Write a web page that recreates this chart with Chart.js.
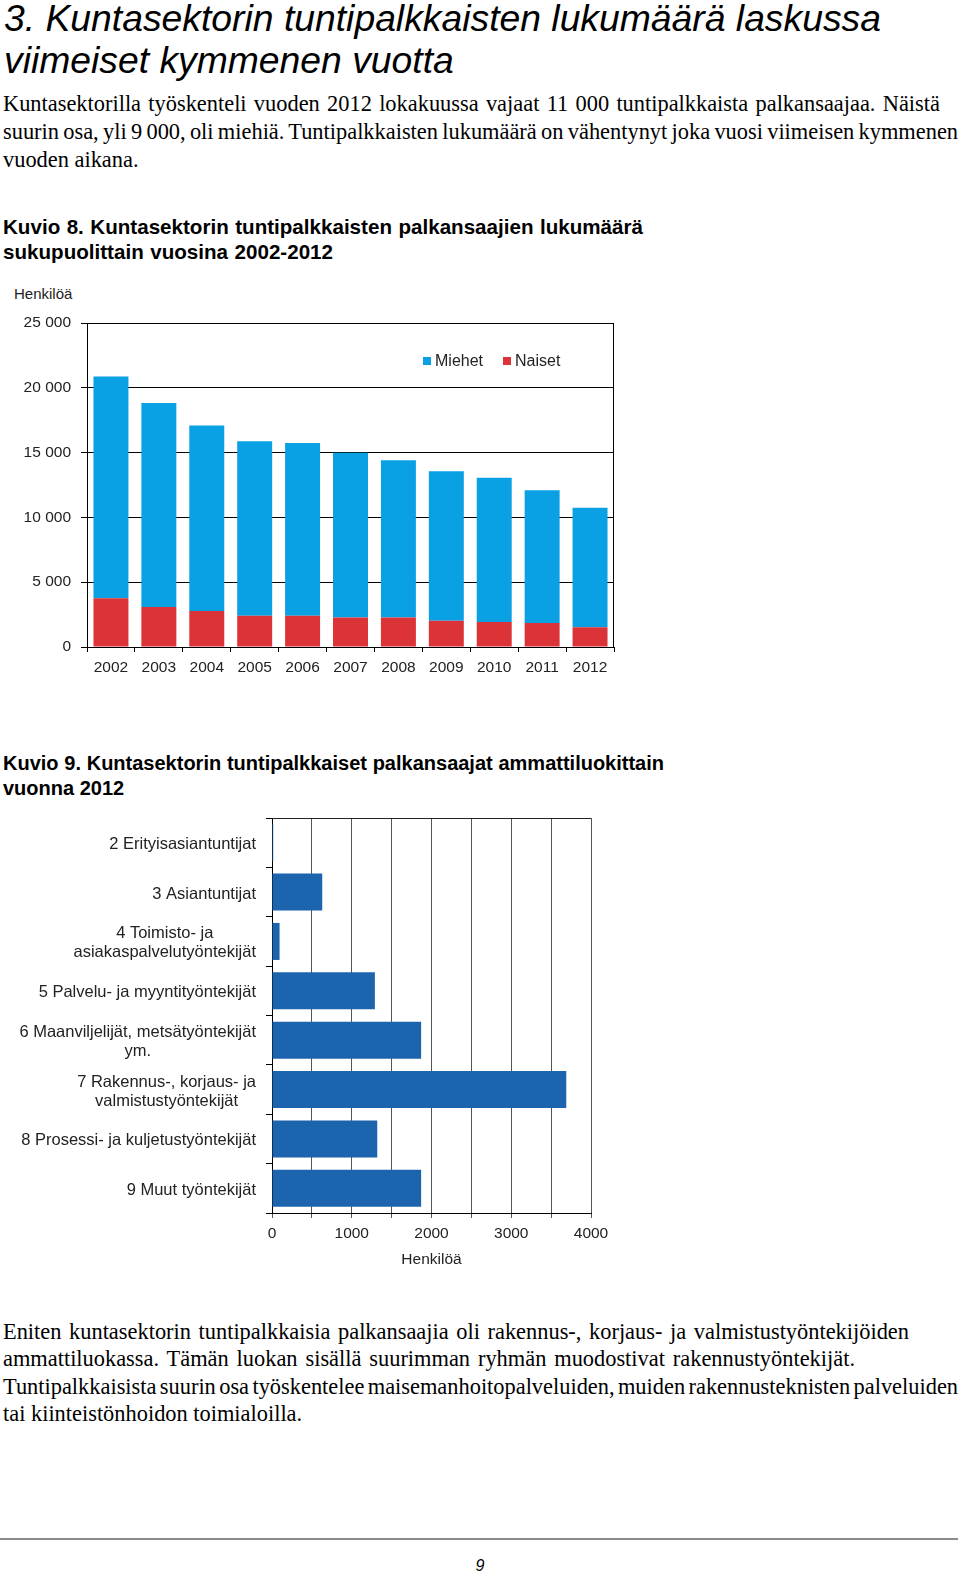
<!DOCTYPE html>
<html>
<head>
<meta charset="utf-8">
<script src="https://cdn.jsdelivr.net/npm/chart.js@4.4.0/dist/chart.umd.min.js"></script>
<style>
body { margin: 0; background: #fff; }
#page { position: relative; width: 960px; height: 1572px; overflow: hidden; }
.t { position: absolute; left: 3px; white-space: nowrap; color: #000; }
.h1 { font: italic 37.3px "Liberation Sans", Arial, sans-serif; line-height: 42px; top: -3px; left: 4px; }
.p { font: 22.4px "Liberation Serif", "Times New Roman", serif; line-height: 28px; }
.kuvio { font: bold 20.6px "Liberation Sans", Arial, sans-serif; line-height: 24.5px; }
.small { font: 15px "Liberation Sans", Arial, sans-serif; color: #222; }
.box { position: absolute; left: 0; }
#legend1 { position: absolute; left: 423px; top: 352px; font: 16px "Liberation Sans", Arial, sans-serif; color: #222; white-space: nowrap; }
#legend1 span.sw { display: inline-block; width: 8px; height: 8px; margin-right: 4px; vertical-align: 1px; }
#legend1 span.it { margin-right: 20px; }
#rule { position: absolute; left: 0; top: 1538px; width: 958px; height: 2px; background: #8a8a8a; }
#pnum { position: absolute; left: 0; width: 960px; top: 1557px; text-align: center; font: italic 16px "Liberation Sans", Arial, sans-serif; }
</style>
</head>
<body>
<div id="page">
  <div class="t h1">3. Kuntasektorin tuntipalkkaisten lukumäärä laskussa<br>viimeiset kymmenen vuotta</div>
  <div class="t p" style="top:90px"><span class="ln" data-w="937">Kuntasektorilla työskenteli vuoden 2012 lokakuussa vajaat 11 000 tuntipalkkaista palkansaajaa. Näistä</span><br><span class="ln" data-w="955">suurin osa, yli 9 000, oli miehiä. Tuntipalkkaisten lukumäärä on vähentynyt joka vuosi viimeisen kymmenen</span><br>vuoden aikana.</div>
  <div class="t kuvio" style="top:215px"><span class="ln" data-w="640">Kuvio 8. Kuntasektorin tuntipalkkaisten palkansaajien lukumäärä</span><br><span class="ln" data-w="330">sukupuolittain vuosina 2002-2012</span></div>
  <div class="t small" style="top:285px;left:14px">Henkilöä</div>

  <div class="box" style="top:303px;width:630px;height:379px"><canvas id="c1"></canvas></div>
  <div id="legend1"></div>

  <div class="t kuvio" style="top:751px;font-size:20px"><span class="ln" data-w="661">Kuvio 9. Kuntasektorin tuntipalkkaiset palkansaajat ammattiluokittain</span><br>vuonna 2012</div>

  <div class="box" style="top:800px;width:616px;height:469px"><canvas id="c2"></canvas></div>

  <div class="t p" style="top:1318px;line-height:27.4px"><span class="ln" data-w="906">Eniten kuntasektorin tuntipalkkaisia palkansaajia oli rakennus-, korjaus- ja valmistustyöntekijöiden</span><br><span class="ln" data-w="852">ammattiluokassa. Tämän luokan sisällä suurimman ryhmän muodostivat rakennustyöntekijät.</span><br><span class="ln" data-w="955">Tuntipalkkaisista suurin osa työskentelee maisemanhoitopalveluiden, muiden rakennusteknisten palveluiden</span><br>tai kiinteistönhoidon toimialoilla.</div>

  <div id="rule"></div>
  <div id="pnum">9</div>
</div>

<script>
// Kuvio 8
const vuodet = ["2002", "2003", "2004", "2005", "2006", "2007", "2008", "2009", "2010", "2011", "2012"];
const miehet = [17100, 15740, 14330, 13470, 13340, 12700, 12130, 11540, 11130, 10250, 9230];
const naiset = [3770, 3080, 2770, 2410, 2410, 2280, 2280, 2030, 1920, 1850, 1520];
const sarjat = ["Miehet", "Naiset"];
const varit = ["#0aa0e4", "#db3338"];

// Kuvio 9
const ammatit = [
  ["2 Erityisasiantuntijat"],
  ["3 Asiantuntijat"],
  ["4 Toimisto- ja", "asiakaspalvelutyöntekijät"],
  ["5 Palvelu- ja myyntityöntekijät"],
  ["6 Maanviljelijät, metsätyöntekijät", "ym."],
  ["7 Rakennus-, korjaus- ja", "valmistustyöntekijät"],
  ["8 Prosessi- ja kuljetustyöntekijät"],
  ["9 Muut työntekijät"]
];
const henkiloa = [15, 630, 95, 1290, 1870, 3690, 1320, 1870];

// the source text sets words tighter than our fonts, fit lines by word spacing
document.querySelectorAll(".ln").forEach((el) => {
  const spaces = (el.textContent.match(/ /g) || []).length;
  const w = el.getBoundingClientRect().width;
  if (spaces) el.style.wordSpacing = ((+el.dataset.w - w) / spaces).toFixed(2) + "px";
});

const fontti = '"Liberation Sans", Arial, sans-serif';
Chart.defaults.font.family = fontti;
Chart.defaults.font.size = 15.5;
Chart.defaults.color = "#222";
Chart.defaults.animation = false;

function tuhannet(v) {
  return String(v).replace(/\B(?=(\d{3})+(?!\d))/g, " ");
}

// top and right edge of the plot box
const kehys = {
  id: "kehys",
  afterDatasetsDraw(chart, args, opts) {
    const a = chart.chartArea;
    const ctx = chart.ctx;
    ctx.save();
    ctx.strokeStyle = opts.color || "#000";
    ctx.lineWidth = 1;
    ctx.beginPath();
    ctx.moveTo(a.left, Math.round(a.top) + 0.5);
    ctx.lineTo(a.right, Math.round(a.top) + 0.5);
    if (opts.right) {
      ctx.moveTo(Math.round(a.right) - 0.5, a.top);
      ctx.lineTo(Math.round(a.right) - 0.5, a.bottom);
    }
    ctx.stroke();
    ctx.restore();
  }
};

// legend as html
const leg = document.getElementById("legend1");
sarjat.forEach((s, i) => {
  leg.innerHTML += '<span class="sw" style="background:' + varit[i] + '"></span><span class="it">' + s + "</span>";
});

new Chart(document.getElementById("c1"), {
  type: "bar",
  data: {
    labels: vuodet,
    datasets: [
      { label: sarjat[1], data: naiset, backgroundColor: varit[1] },
      { label: sarjat[0], data: miehet, backgroundColor: varit[0] }
    ]
  },
  options: {
    responsive: true,
    maintainAspectRatio: false,
    layout: { padding: { top: 20, right: 16, left: 0, bottom: 0 } },
    datasets: { bar: { categoryPercentage: 1, barPercentage: 0.73 } },
    plugins: { legend: { display: false }, tooltip: { enabled: false }, kehys: { color: "#000", right: true } },
    scales: {
      x: {
        stacked: true,
        grid: { drawOnChartArea: false, color: "#000", tickLength: 5 },
        border: { color: "#000" },
        ticks: { padding: 6, color: "#222", maxRotation: 0, autoSkip: false },
        afterFit: (s) => { s.height = 35; }
      },
      y: {
        stacked: true,
        min: 0,
        max: 25000,
        grid: { color: "#000", tickLength: 6 },
        border: { color: "#000" },
        ticks: { stepSize: 5000, padding: 10, color: "#222", callback: (v) => tuhannet(v) },
        afterFit: (s) => { s.width = 87; }
      }
    }
  },
  plugins: [kehys]
});

// category labels, multi-line ones centred as in the original
const luokat = {
  id: "luokat",
  afterDraw(chart) {
    const s = chart.scales.y;
    const ctx = chart.ctx;
    ctx.save();
    ctx.font = "16.5px " + fontti;
    ctx.fillStyle = "#222";
    ctx.textAlign = "center";
    ctx.textBaseline = "middle";
    ammatit.forEach((rivit, i) => {
      const w = Math.max(...rivit.map((r) => ctx.measureText(r).width));
      const cx = s.right - 16 - w / 2;
      const y0 = s.getPixelForValue(i) + 2 - (rivit.length - 1) * 19 / 2;
      rivit.forEach((r, j) => ctx.fillText(r, cx, y0 + j * 19));
    });
    ctx.restore();
  }
};

new Chart(document.getElementById("c2"), {
  type: "bar",
  data: {
    labels: ammatit,
    datasets: [{ label: "Henkilöä", data: henkiloa, backgroundColor: "#1c64ad" }]
  },
  options: {
    indexAxis: "y",
    responsive: true,
    maintainAspectRatio: false,
    layout: { padding: { top: 18, right: 25, left: 0, bottom: 0 } },
    datasets: { bar: { categoryPercentage: 1, barPercentage: 0.75 } },
    plugins: { legend: { display: false }, tooltip: { enabled: false }, kehys: { color: "#222", right: false } },
    scales: {
      x: {
        min: 0,
        max: 4000,
        grid: { color: "#555", tickLength: 5 },
        border: { color: "#000" },
        ticks: {
          stepSize: 500, padding: 6, color: "#222", maxRotation: 0, minRotation: 0, autoSkip: false,
          callback: (v) => (v % 1000 === 0 ? String(v) : "")
        },
        title: { display: true, text: "Henkilöä", color: "#222", padding: { top: 4, bottom: 0 } },
        afterFit: (s) => { s.height = 56; }
      },
      y: {
        grid: { drawOnChartArea: false, color: "#000", tickLength: 6 },
        border: { color: "#000" },
        ticks: { display: false },
        afterFit: (s) => { s.width = 272; }
      }
    }
  },
  plugins: [kehys, luokat]
});
</script>
</body>
</html>
